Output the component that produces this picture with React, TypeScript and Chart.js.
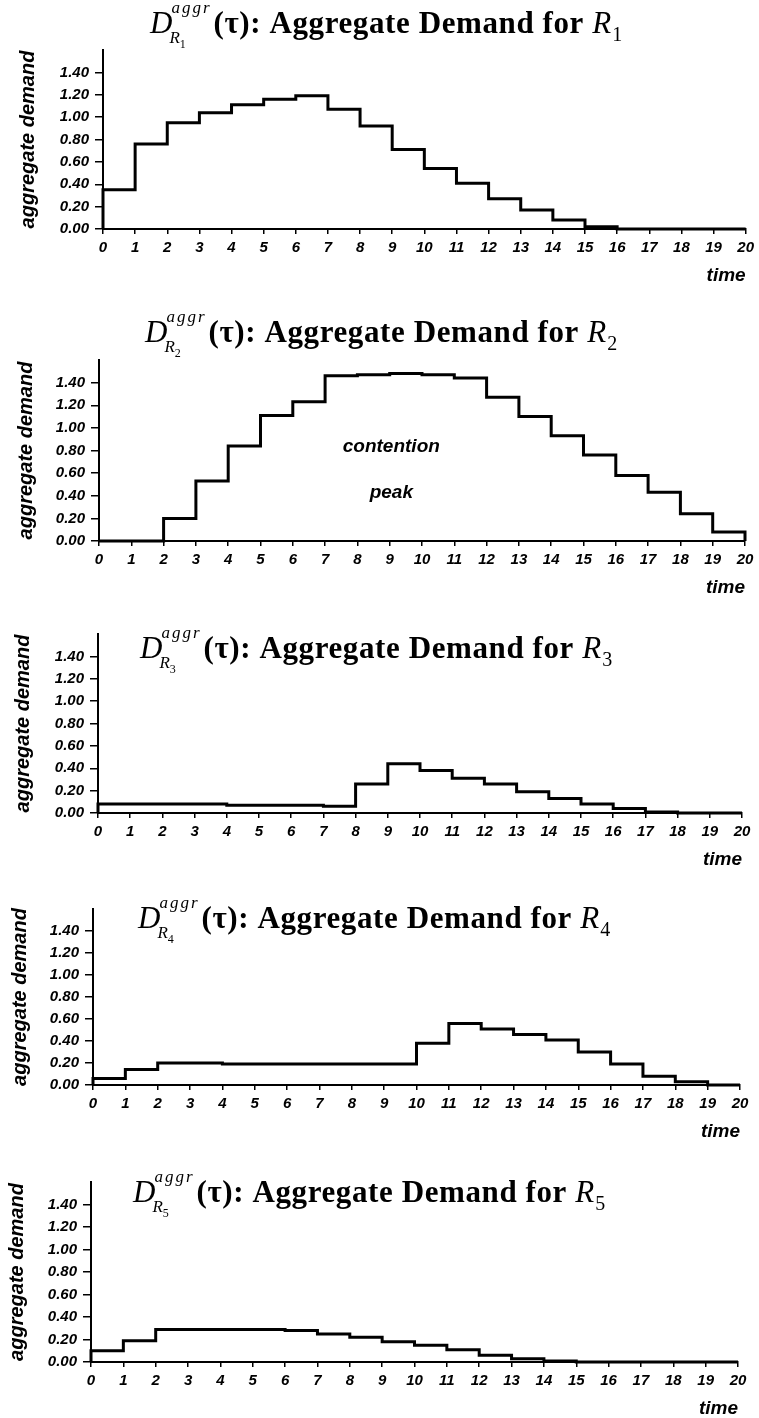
import React, { useEffect, useRef } from 'react';
import { Chart, registerables } from 'chart.js';

Chart.register(...registerables);

// ---------- data ----------
const timeTicks = [0, 1, 2, 3, 4, 5, 6, 7, 8, 9, 10, 11, 12, 13, 14, 15, 16, 17, 18, 19, 20];
const xTickLabels = ['0', '1', '2', '3', '4', '5', '6', '7', '8', '9', '10', '11', '12', '13', '14', '15', '16', '17', '18', '19', '20'];
const yTickValues = [0, 0.2, 0.4, 0.6, 0.8, 1.0, 1.2, 1.4];
const yTickLabels = ['0.00', '0.20', '0.40', '0.60', '0.80', '1.00', '1.20', '1.40'];

const resourceSubscripts = ['1', '2', '3', '4', '5'];
const titleSuperscript = 'aggr';
const titleMiddle = '(τ): Aggregate Demand for ';
const yAxisTitle = 'aggregate demand';
const xAxisTitle = 'time';

// demand in each unit interval [t, t+1), t = 0..19
const demandR1 = [0.35, 0.76, 0.95, 1.04, 1.11, 1.16, 1.19, 1.07, 0.92, 0.71, 0.54, 0.41, 0.27, 0.17, 0.08, 0.02, 0, 0, 0, 0];
const demandR2 = [0, 0, 0.2, 0.53, 0.84, 1.11, 1.23, 1.46, 1.47, 1.48, 1.47, 1.44, 1.27, 1.1, 0.93, 0.76, 0.58, 0.43, 0.24, 0.08];
const demandR3 = [0.08, 0.08, 0.08, 0.08, 0.07, 0.07, 0.07, 0.06, 0.26, 0.44, 0.38, 0.31, 0.26, 0.19, 0.13, 0.08, 0.04, 0.01, 0, 0];
const demandR4 = [0.06, 0.14, 0.2, 0.2, 0.19, 0.19, 0.19, 0.19, 0.19, 0.19, 0.38, 0.56, 0.51, 0.46, 0.41, 0.3, 0.19, 0.08, 0.03, 0];
const demandR5 = [0.1, 0.19, 0.29, 0.29, 0.29, 0.29, 0.28, 0.25, 0.22, 0.18, 0.15, 0.11, 0.06, 0.03, 0.01, 0, 0, 0, 0, 0];

const demandSeries = [demandR1, demandR2, demandR3, demandR4, demandR5];

const noteTexts = ['contention', 'peak'];
const noteX = [9.05, 9.05];
const noteY = [0.83, 0.43];

// ---------- layout (page pixels) ----------
const panelLayouts = [
  { top: 0, height: 285, L: 103, R: 748, T: 50, B: 229, titleX: 150, titleBase: 33, yTitleX: 28 },
  { top: 290, height: 307, L: 99, R: 745, T: 360, B: 541, titleX: 145, titleBase: 342, yTitleX: 26 },
  { top: 585, height: 284, L: 98, R: 742, T: 634, B: 813, titleX: 140, titleBase: 658, yTitleX: 23 },
  { top: 865, height: 276, L: 93, R: 740, T: 909, B: 1085, titleX: 138, titleBase: 928, yTitleX: 20 },
  { top: 1140, height: 278, L: 91, R: 738, T: 1182, B: 1362, titleX: 133, titleBase: 1202, yTitleX: 17 },
];

const X_AXIS_H = 56;
const SANS = '"Liberation Sans", Arial, Helvetica, sans-serif';
const SERIF = '"Liberation Serif", "Times New Roman", serif';

function stepPoints(values: number[]) {
  const pts: { x: number; y: number }[] = [{ x: timeTicks[0], y: 0 }];
  values.forEach((v, i) => {
    pts.push({ x: timeTicks[i], y: v });
    pts.push({ x: timeTicks[i + 1], y: v });
  });
  pts.push({ x: timeTicks[timeTicks.length - 1], y: 0 });
  return pts;
}

function drawTitle(ctx: CanvasRenderingContext2D, x: number, base: number, sub: string) {
  ctx.save();
  ctx.fillStyle = '#000';
  ctx.textAlign = 'left';
  ctx.textBaseline = 'alphabetic';
  const anyCtx = ctx as any;
  // D
  ctx.font = `italic 31px ${SERIF}`;
  anyCtx.letterSpacing = '0px';
  ctx.fillText('D', x, base);
  const sx = x + ctx.measureText('D').width;
  // superscript aggr
  ctx.font = `italic 17px ${SERIF}`;
  anyCtx.letterSpacing = '2px';
  ctx.fillText(titleSuperscript, sx - 1, base - 20);
  const wSup = ctx.measureText(titleSuperscript).width;
  anyCtx.letterSpacing = '0px';
  // subscript R_k
  ctx.font = `italic 17px ${SERIF}`;
  ctx.fillText('R', sx - 3, base + 10);
  const wR = ctx.measureText('R').width;
  ctx.font = `12px ${SERIF}`;
  ctx.fillText(sub, sx - 3 + wR, base + 15);
  let cx = sx + wSup + 1;
  // main text
  ctx.font = `bold 31px ${SERIF}`;
  anyCtx.letterSpacing = '0.6px';
  ctx.fillText(titleMiddle, cx, base);
  cx += ctx.measureText(titleMiddle).width;
  anyCtx.letterSpacing = '0px';
  ctx.font = `italic 31px ${SERIF}`;
  ctx.fillText('R', cx, base);
  cx += ctx.measureText('R').width;
  ctx.font = `20px ${SERIF}`;
  ctx.fillText(sub, cx + 1, base + 8);
  ctx.restore();
}

function Panel({ index }: { index: number }) {
  const ref = useRef<HTMLCanvasElement>(null);
  const lay = panelLayouts[index];

  useEffect(() => {
    if (!ref.current) return;
    const values = demandSeries[index];
    const sub = resourceSubscripts[index];
    const notes = index === 1 ? noteTexts.map((t, i) => ({ t, x: noteX[i], y: noteY[i] })) : [];

    const titlePlugin = {
      id: 'panelTitle',
      afterDraw(chart: any) {
        drawTitle(chart.ctx, lay.titleX, lay.titleBase - lay.top, sub);
      },
    };
    const notePlugin = {
      id: 'panelNotes',
      afterDatasetsDraw(chart: any) {
        const ctx = chart.ctx as CanvasRenderingContext2D;
        ctx.save();
        ctx.fillStyle = '#000';
        ctx.font = `italic bold 19px ${SANS}`;
        ctx.textAlign = 'center';
        ctx.textBaseline = 'middle';
        notes.forEach((n) => {
          ctx.fillText(n.t, chart.scales.x.getPixelForValue(n.x), chart.scales.y.getPixelForValue(n.y));
        });
        ctx.restore();
      },
    };

    const tickFont = { family: SANS, size: 15, style: 'italic' as const, weight: 'bold' as const };

    const chart = new Chart(ref.current, {
      type: 'line',
      data: {
        datasets: [
          {
            data: stepPoints(values),
            borderColor: '#000',
            borderWidth: 3,
            pointRadius: 0,
            fill: false,
            tension: 0,
            clip: 6,
          } as any,
        ],
      },
      options: {
        responsive: false,
        animation: false,
        events: [],
        layout: {
          padding: {
            top: lay.T - lay.top,
            left: 0,
            right: 759 - lay.R,
            bottom: lay.height - (lay.B - lay.top) - X_AXIS_H,
          },
        },
        plugins: { legend: { display: false }, tooltip: { enabled: false }, title: { display: false } },
        scales: {
          x: {
            type: 'linear',
            min: 0,
            max: 20,
            afterBuildTicks: (scale: any) => {
              scale.ticks = timeTicks.map((v) => ({ value: v }));
            },
            afterFit: (scale: any) => {
              scale.height = X_AXIS_H;
            },
            ticks: {
              autoSkip: false,
              maxRotation: 0,
              minRotation: 0,
              padding: 5,
              color: '#000',
              font: tickFont,
              callback: (v: any) => xTickLabels[timeTicks.indexOf(Number(v))],
            },
            grid: { display: true, drawOnChartArea: false, drawTicks: true, tickLength: 5, color: '#000', lineWidth: 1.5 },
            border: { display: true, color: '#000', width: 2 },
            title: {
              display: true,
              text: xAxisTitle,
              align: 'end',
              color: '#000',
              font: { family: SANS, size: 19, style: 'italic', weight: 'bold', lineHeight: 1 },
              padding: { top: 0, bottom: 0 },
            },
          },
          y: {
            type: 'linear',
            min: 0,
            max: 1.6,
            afterBuildTicks: (scale: any) => {
              scale.ticks = yTickValues.map((v) => ({ value: v }));
            },
            afterFit: (scale: any) => {
              scale.width = lay.L;
            },
            ticks: {
              padding: 6,
              color: '#000',
              font: tickFont,
              callback: (v: any) => yTickLabels[yTickValues.findIndex((t) => Math.abs(t - Number(v)) < 1e-6)],
            },
            grid: { display: true, drawOnChartArea: false, drawTicks: true, tickLength: 8, color: '#000', lineWidth: 1.5 },
            border: { display: true, color: '#000', width: 2 },
            title: {
              display: true,
              text: yAxisTitle,
              color: '#000',
              font: { family: SANS, size: 20, style: 'italic', weight: 'bold', lineHeight: 1 },
              padding: { top: lay.yTitleX - 10, bottom: 0 },
            },
          },
        },
      } as any,
      plugins: [titlePlugin, notePlugin],
    });
    return () => chart.destroy();
  }, [index]);

  return (
    <canvas
      ref={ref}
      width={759}
      height={lay.height}
      style={{ position: 'absolute', left: 0, top: lay.top, width: 759, height: lay.height }}
    />
  );
}

export default function App() {
  return (
    <div
      style={{
        position: 'fixed',
        left: 0,
        top: 0,
        width: 759,
        height: 1418,
        overflow: 'hidden',
        background: '#fff',
      }}
    >
      {panelLayouts.map((_, i) => (
        <Panel key={i} index={i} />
      ))}
    </div>
  );
}
